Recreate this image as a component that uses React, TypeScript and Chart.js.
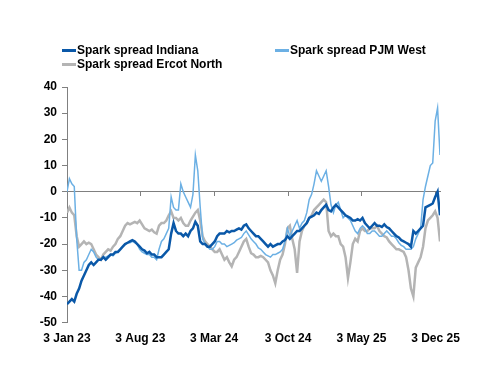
import React, { useEffect, useRef } from 'react';
import { Chart, registerables } from 'chart.js';

Chart.register(...registerables);

// Weekly observations starting on this date
const startDate = '2023-01-03';
const stepDays = 7;

const tickDates = ['2023-01-03', '2023-08-03', '2024-03-03', '2024-10-03', '2025-05-03', '2025-12-03'];
const monthNames = ['Jan', 'Feb', 'Mar', 'Apr', 'May', 'Jun', 'Jul', 'Aug', 'Sep', 'Oct', 'Nov', 'Dec'];

const seriesNames = ['Spark spread Indiana', 'Spark spread PJM West', 'Spark spread Ercot North'];
const seriesColors = ['#0a58a8', '#6cb0e4', '#b4b4b4'];
const seriesWidths = [2.5, 1.5, 2.5];

const indiana = [
  -43, -42, -41, -42, -39, -37, -34, -32, -30, -28,
  -27, -28, -27, -26, -26, -25, -26, -25, -24, -24,
  -23, -23, -22, -21, -20, -19.5, -19, -18.5, -19, -20,
  -21, -22, -22.5, -23.5, -23, -24, -24, -25, -25, -25,
  -24, -23, -22, -16, -12, -15, -16, -16, -17, -16,
  -17, -15, -14, -11.5, -13, -19, -20, -20, -21, -21,
  -20, -19, -17, -16, -16, -16, -15, -15.5, -15, -15,
  -14.5, -14, -14.5, -13, -12.5, -14, -15, -16, -17, -17,
  -18, -19, -20, -21, -20, -21, -20.5, -20, -20, -19,
  -18.5, -17, -18, -17, -16, -15, -15, -14, -13, -12,
  -10, -9.5, -9, -8, -8.5, -7, -6, -5, -7, -7.5,
  -6, -5, -6, -7, -8, -9, -9.5, -10, -11, -11,
  -10.5, -11, -10, -12, -13, -14, -13, -12, -13, -13,
  -13.5, -12.5, -13.5, -14, -15, -16, -17, -17.5, -18.5, -19,
  -19.5, -20, -21, -15, -16, -15, -14, -13, -6, -5.5,
  -5, -4.5, -2, 0, -9,
];

const pjmWest = [
  0, 5, 3, 2, -18, -30, -30, -27, -26, -24,
  -22, -23, -25, -26, -26, -25, -25, -24.5, -24, -24.5,
  -23.5, -23, -22, -21, -20, -19.5, -19.5, -19, -19.5, -20,
  -22, -23, -23.5, -24, -24, -25, -25, -26, -22, -19,
  -18, -16, -14, -2, -6, -7, -7, 3, 0, -2,
  -4, -6, -1, 14, 8, -6, -18, -20, -21, -22,
  -22, -21, -19, -19, -20, -20, -21, -20.5, -20, -19.5,
  -18.5, -18, -17.5, -16, -15, -16.5, -18, -19, -20, -21.5,
  -22, -23, -24, -24.5, -25, -24, -24, -23.5, -23, -22,
  -19, -14, -17, -15, -13, -11, -14, -12, -11, -8,
  -3, -1, 3, 8, 6, 4, 6, 8, 2, -5,
  -8, -5, -4, -7, -10, -9, -10, -11, -13, -15,
  -16, -14, -13, -14, -16, -16, -15, -15, -16, -17,
  -17, -16, -15, -16, -17, -17, -18, -19.5, -20.5, -21,
  -22, -22, -22, -21, -18, -16, -14, -3, 2, 6,
  10, 11, 27, 32, 14,
];

const ercotNorth = [
  -8, -6, -8, -9, -17, -21, -20, -19, -20, -19.5,
  -20, -22, -24, -25, -26, -24, -23, -22, -22.5, -21,
  -20, -18, -17, -15, -13, -12, -12.5, -12, -11.5, -12,
  -11, -12.5, -14, -14.5, -15, -14.5, -15.5, -16, -13, -12,
  -12, -11, -9, -7.5, -10, -10, -11, -10, -12, -13,
  -13, -11, -9.5, -8, -7, -11, -17, -19, -20, -21,
  -22, -23, -23, -22, -24, -26, -25, -27, -28.5, -26,
  -25, -23, -21, -19, -18, -21, -23.5, -24, -25, -25,
  -24.5, -25, -26, -27, -30, -32, -35, -30, -26, -24,
  -20, -14, -13, -18, -22, -31, -19, -15, -13, -12,
  -10, -9, -7, -6, -5, -4, -3, -4, -15, -17,
  -16, -17, -17, -20, -21, -25, -33, -27, -20, -18,
  -19, -15, -14, -15, -15, -14, -14, -14, -13, -15,
  -16, -17, -17.5, -19, -20, -21, -22, -22, -22.5, -23,
  -25, -30, -37, -40, -29, -27, -25, -21, -14, -11,
  -10, -9, -7.5, -10, -19,
];

const yMin = -50;
const yMax = 40;
const yStep = 10;

const DAY = 86400000;
const startMs = Date.parse(startDate + 'T00:00:00Z');
const dayOffset = (d: string) => Math.round((Date.parse(d + 'T00:00:00Z') - startMs) / DAY);
const fmtDay = (off: number) => {
  const d = new Date(startMs + off * DAY);
  return `${d.getUTCDate()} ${monthNames[d.getUTCMonth()]} ${String(d.getUTCFullYear()).slice(2)}`;
};

const FONT = '"Liberation Sans", Arial, sans-serif';
const AXIS_GREY = '#808080';

export default function App() {
  const canvasRef = useRef<HTMLCanvasElement | null>(null);

  useEffect(() => {
    if (!canvasRef.current) return;
    const allSeries = [indiana, pjmWest, ercotNorth];
    const lastDay = (indiana.length - 1) * stepDays;
    const tickDays = tickDates.map(dayOffset);
    const setTicks = (scale: any) => {
      scale.ticks = tickDays.map((v) => ({ value: v }));
    };

    const chart = new Chart(canvasRef.current, {
      type: 'line',
      data: {
        datasets: allSeries.map((arr, k) => ({
          label: seriesNames[k],
          data: arr.map((v, i) => ({ x: i * stepDays, y: v })),
          borderColor: seriesColors[k],
          backgroundColor: seriesColors[k],
          borderWidth: seriesWidths[k],
          pointRadius: 0,
          tension: 0,
          fill: false,
          xAxisID: 'x',
          yAxisID: 'y',
        })),
      },
      options: {
        responsive: false,
        animation: false,
        events: [],
        layout: { padding: { left: 0, right: 52, top: 79, bottom: 23 } },
        plugins: {
          legend: { display: false },
          tooltip: { enabled: false },
        },
        scales: {
          x: {
            type: 'linear',
            position: 'bottom',
            min: 0,
            max: lastDay,
            afterBuildTicks: setTicks,
            grid: { display: false, drawTicks: false },
            border: { display: false },
            ticks: {
              callback: (v: any) => fmtDay(Number(v)),
              font: { family: FONT, size: 12, weight: 'bold' },
              color: '#000',
              padding: 9,
              maxRotation: 0,
              autoSkip: false,
            },
          },
          x2: {
            type: 'linear',
            position: { y: 0 } as any,
            min: 0,
            max: lastDay,
            afterBuildTicks: setTicks,
            grid: { drawOnChartArea: false, drawTicks: true, tickLength: 4, color: AXIS_GREY },
            border: { display: true, color: AXIS_GREY, width: 1 },
            ticks: { display: false },
          },
          y: {
            type: 'linear',
            position: 'left',
            min: yMin,
            max: yMax,
            afterFit: (scale: any) => {
              scale.width = 59;
            },
            grid: { drawOnChartArea: false, drawTicks: true, tickLength: 5, color: AXIS_GREY },
            border: { display: true, color: AXIS_GREY, width: 1 },
            ticks: {
              stepSize: yStep,
              font: { family: FONT, size: 12, weight: 'bold' },
              color: '#000',
              padding: 5,
            },
          },
        },
      },
    });
    return () => chart.destroy();
  }, []);

  const legendItem = (k: number, left: number, top: number) => (
    <div
      key={k}
      style={{
        position: 'absolute',
        left,
        top,
        display: 'flex',
        alignItems: 'center',
        font: `bold 12px ${FONT}`,
        color: '#000',
        whiteSpace: 'nowrap',
        lineHeight: '14px',
      }}
    >
      <span style={{ display: 'inline-block', width: 14, height: 3, background: seriesColors[k], marginRight: 1 }} />
      <span>{seriesNames[k]}</span>
    </div>
  );

  return (
    <div style={{ position: 'relative', width: 484, height: 370 }}>
      <canvas ref={canvasRef} width={484} height={370} style={{ display: 'block' }} />
      {legendItem(0, 54, 35)}
      {legendItem(1, 267, 35)}
      {legendItem(2, 54, 49)}
    </div>
  );
}
